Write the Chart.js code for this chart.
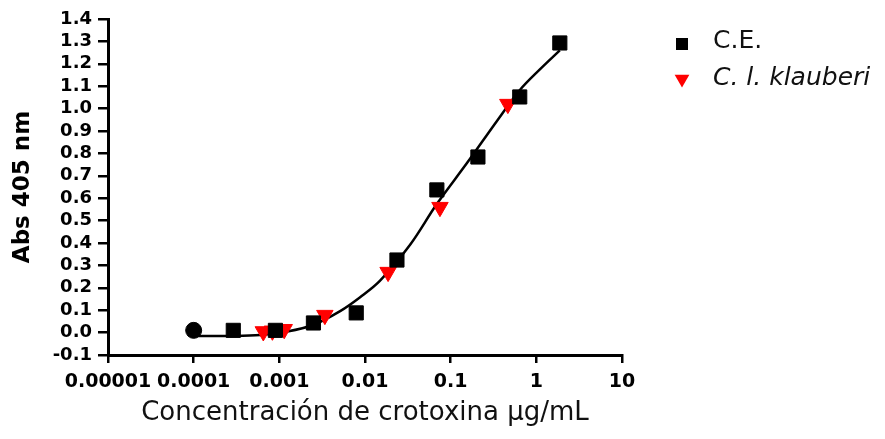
<!DOCTYPE html>
<html>
<head>
<meta charset="utf-8">
<script src="https://cdn.jsdelivr.net/npm/chart.js@4.4.1/dist/chart.umd.min.js"></script>
<style>
html,body{margin:0;padding:0;background:#fff;}
canvas{display:block;}
</style>
</head>
<body>
<canvas id="c" width="885" height="439"></canvas>
<script>
// values (x in ug/mL, y = Abs 405 nm)
const ceConc = [0.0001, 0.00029, 0.0009, 0.0025, 0.0079, 0.0236, 0.069, 0.208, 0.64, 1.88];
const ceAbs  = [0.01, 0.01, 0.01, 0.043, 0.088, 0.324, 0.637, 0.784, 1.052, 1.293];
const ckConc = [0.00065, 0.00083, 0.00114, 0.0034, 0.0186, 0.075, 0.465];
const ckAbs  = [0.005, 0.008, 0.015, 0.078, 0.27, 0.56, 1.02];
// fitted curve, points picked along the drawn line
const fitConc = [0.0001, 0.00027, 0.0006, 0.00117, 0.00248, 0.00513, 0.00877, 0.015, 0.0336, 0.0692, 0.155, 0.347, 0.643, 1.10, 1.88];
const fitAbs  = [-0.015, -0.015, -0.011, 0.003, 0.034, 0.096, 0.158, 0.232, 0.392, 0.575, 0.757, 0.945, 1.083, 1.175, 1.26];

const xTicks = [0.00001, 0.0001, 0.001, 0.01, 0.1, 1, 10];
const xTickLabels = ['0.00001', '0.0001', '0.001', '0.01', '0.1', '1', '10'];
const yTicks = [-0.1, 0.0, 0.1, 0.2, 0.3, 0.4, 0.5, 0.6, 0.7, 0.8, 0.9, 1.0, 1.1, 1.2, 1.3, 1.4];

const pts = (xs, ys) => xs.map((x, i) => ({x: x, y: ys[i]}));

// legend drawn at the right, like the original
const sideLegend = {
  id: 'sideLegend',
  afterDraw(chart) {
    const ctx = chart.ctx;
    const rows = [
      {ds: 0, my: 44, ty: 41, font: '25px "DejaVu Sans"'},
      {ds: 1, my: 79, ty: 78, font: 'italic 25px "DejaVu Sans"'}
    ];
    ctx.save();
    rows.forEach(r => {
      const d = chart.data.datasets[r.ds];
      ctx.fillStyle = d.backgroundColor;
      ctx.strokeStyle = d.borderColor;
      ctx.lineWidth = 1;
      Chart.helpers.drawPoint(ctx, {pointStyle: d.legendStyle, radius: 8.5, rotation: d.rotation || 0}, 682, r.my);
      ctx.fillStyle = '#111';
      ctx.font = r.font;
      ctx.textAlign = 'left';
      ctx.textBaseline = 'middle';
      ctx.fillText(d.label, 713, r.ty);
    });
    ctx.restore();
  }
};

new Chart(document.getElementById('c'), {
  type: 'scatter',
  data: {
    datasets: [
      {
        label: 'C.E.', data: pts(ceConc, ceAbs), order: 1,
        pointStyle: c => c.dataIndex === 0 ? 'circle' : 'rect', legendStyle: 'rect',
        pointRadius: c => c.dataIndex === 0 ? 8 : 10,
        backgroundColor: '#000', borderColor: '#000', borderWidth: 1
      },
      {
        label: 'C. l. klauberi', data: pts(ckConc, ckAbs), order: 2,
        pointStyle: 'triangle', legendStyle: 'triangle', rotation: 180, pointRadius: 9.5,
        backgroundColor: '#ff0000', borderColor: '#ff0000', borderWidth: 1
      },
      {
        type: 'line', label: 'fit', data: pts(fitConc, fitAbs), order: 3,
        showLine: true, pointRadius: 0, borderColor: '#000', borderWidth: 2.5,
        tension: 0.35, fill: false
      }
    ]
  },
  options: {
    responsive: false, animation: false, clip: false,
    layout: {padding: {left: 0, right: 263, top: 19, bottom: 0}},
    plugins: {legend: {display: false}, tooltip: {enabled: false}},
    scales: {
      x: {
        type: 'logarithmic', min: 0.00001, max: 10,
        afterBuildTicks: s => { s.ticks = xTicks.map(v => ({value: v})); },
        afterFit: s => { s.height = 84; },
        grid: {drawOnChartArea: false, drawTicks: true, tickLength: 8, color: '#000', lineWidth: 2.5},
        border: {color: '#000', width: 3},
        ticks: {
          autoSkip: false, maxRotation: 0, color: '#000', padding: 8,
          font: {family: 'DejaVu Sans', size: 19, weight: 'bold'},
          callback: (v, i) => xTickLabels[i]
        },
        title: {
          display: true, text: 'Concentración de crotoxina µg/mL', color: '#111',
          font: {family: 'DejaVu Sans', size: 26}, padding: {top: 0, bottom: 10}
        }
      },
      y: {
        min: -0.1, max: 1.4,
        afterBuildTicks: s => { s.ticks = yTicks.map(v => ({value: v})); },
        afterFit: s => { s.width = 108; },
        grid: {drawOnChartArea: false, drawTicks: true, tickLength: 10, color: '#000', lineWidth: 2.5},
        border: {color: '#000', width: 3},
        ticks: {
          autoSkip: false, color: '#000', padding: 6,
          font: {family: 'DejaVu Sans', size: 18, weight: 'bold'},
          callback: v => v.toFixed(1)
        },
        title: {
          display: true, text: 'Abs 405 nm', color: '#000',
          font: {family: 'DejaVu Sans', size: 23, weight: 'bold'}, padding: {top: 9, bottom: 0}
        }
      }
    }
  },
  plugins: [sideLegend]
});
</script>
</body>
</html>
